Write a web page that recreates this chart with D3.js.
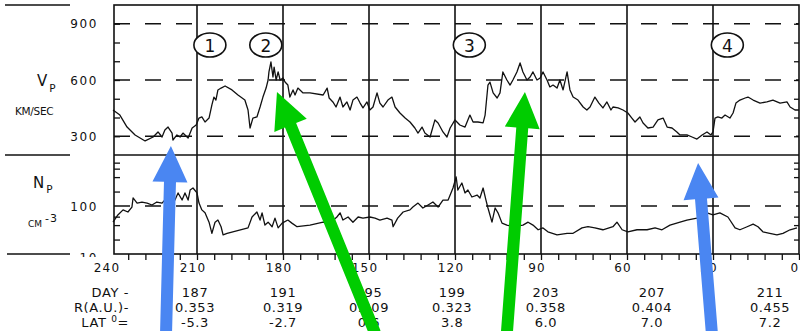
<!DOCTYPE html>
<html><head><meta charset="utf-8">
<script src="https://cdn.jsdelivr.net/npm/d3@7/dist/d3.min.js"></script>
<style>body{margin:0;background:#fff}svg{display:block}</style>
</head><body>
<svg id="c" width="800" height="331"></svg>
<script>
// ---------- data (longitude in degrees) ----------
const vpSeries = [[239.3,440],[236.9,413],[234.4,349],[231.6,307],[228.1,275],[225.3,296],[223.6,323],[222.2,296],[221.2,333],[220.1,349],[218.7,317],[218.4,280],[217.0,307],[215.9,296],[214.9,317],[213.1,291],[211.7,344],[210.3,360],[209.3,397],[208.3,403],[207.2,376],[205.8,397],[204.8,467],[204.1,509],[203.4,493],[202.7,547],[201.6,557],[200.2,568],[197.8,547],[195.7,520],[193.3,493],[192.2,440],[191.5,344],[190.5,397],[189.1,403],[188.0,456],[187.0,509],[185.9,557],[185.2,600],[184.9,643],[184.2,696],[183.5,616],[183.1,669],[182.4,600],[181.7,643],[181.0,600],[180.0,611],[179.3,589],[178.3,573],[177.6,509],[176.5,547],[175.8,520],[174.8,557],[173.0,531],[170.6,531],[166.0,520],[164.6,557],[163.9,504],[162.6,483],[161.5,456],[160.1,509],[159.1,456],[157.7,483],[156.6,440],[155.6,493],[154.2,509],[153.1,477],[152.1,451],[150.7,483],[149.7,440],[148.6,456],[147.2,531],[146.2,477],[145.1,456],[143.4,493],[142.0,509],[140.9,456],[139.2,424],[137.4,397],[135.7,376],[134.0,344],[132.9,317],[131.5,349],[130.5,317],[128.7,296],[127.0,387],[125.9,371],[124.2,323],[122.8,296],[121.7,344],[120.0,387],[118.3,360],[116.5,349],[114.8,413],[113.7,376],[112.0,376],[110.2,371],[109.5,413],[108.5,573],[107.8,589],[106.7,531],[105.3,504],[104.3,531],[103.3,643],[101.9,600],[100.8,573],[99.8,600],[98.4,643],[97.3,691],[96.3,643],[94.9,600],[93.8,616],[92.8,643],[91.4,600],[90.3,611],[89.3,643],[87.9,600],[86.9,563],[85.8,573],[84.4,557],[83.4,600],[82.3,547],[80.9,643],[79.9,547],[78.8,509],[77.1,493],[75.3,456],[74.0,440],[72.9,456],[71.2,509],[69.8,477],[68.4,451],[67.0,483],[65.6,440],[64.9,456],[63.1,451],[61.4,440],[59.7,424],[58.3,397],[57.2,376],[55.5,403],[54.4,371],[52.7,344],[50.9,349],[49.2,387],[47.4,397],[46.0,349],[44.3,344],[42.6,323],[41.5,307],[39.1,307],[37.3,296],[35.6,285],[33.8,307],[32.1,323],[30.7,307],[30.0,323],[29.3,397],[28.3,403],[26.9,397],[25.8,413],[24.1,397],[23.0,424],[22.0,477],[20.6,493],[18.8,504],[17.8,509],[16.0,493],[13.6,477],[11.2,483],[9.1,493],[6.6,477],[4.2,483],[3.1,456],[1.4,440],[0.0,440]];

const npSeries = [[239.3,46],[237.6,65],[235.8,83],[234.1,75],[232.7,95],[232.3,147],[230.9,115],[229.2,121],[227.4,115],[225.7,105],[224.0,121],[222.2,115],[221.2,133],[219.4,121],[217.7,133],[216.6,187],[215.2,133],[214.2,187],[213.1,133],[212.4,215],[211.4,237],[210.0,187],[209.3,115],[208.3,83],[207.2,72],[205.8,46],[204.8,27],[203.7,46],[202.7,51],[201.6,37],[200.9,25],[199.5,27],[192.2,35],[190.8,59],[189.1,75],[188.0,51],[187.3,72],[186.3,40],[185.2,46],[183.8,37],[182.8,56],[181.7,35],[180.3,44],[178.3,51],[176.9,44],[175.1,37],[170.6,40],[166.0,46],[163.6,44],[161.2,59],[160.1,72],[159.1,51],[157.3,59],[155.6,46],[153.8,59],[152.1,56],[149.7,59],[147.9,56],[146.2,51],[143.7,56],[142.0,51],[141.6,37],[140.0,56],[138.1,75],[135.7,83],[134.7,95],[132.9,115],[131.2,91],[129.4,105],[127.7,121],[125.9,95],[124.2,133],[122.4,133],[120.7,237],[119.6,402],[119.0,215],[117.6,301],[116.5,187],[115.5,215],[114.1,154],[112.3,169],[111.3,147],[110.2,237],[109.2,133],[108.5,91],[107.1,46],[106.0,91],[105.0,72],[103.6,44],[101.9,40],[99.8,37],[96.3,40],[94.5,46],[92.8,40],[91.0,32],[89.3,35],[87.6,29],[84.4,25],[80.9,27],[78.8,27],[75.7,35],[73.6,37],[71.2,35],[68.4,32],[64.9,37],[63.5,46],[61.7,32],[59.7,29],[56.5,32],[53.0,32],[50.2,35],[47.8,32],[45.0,40],[41.5,46],[39.1,51],[35.6,56],[32.1,72],[30.0,65],[27.6,72],[24.8,59],[22.3,35],[20.6,32],[18.1,37],[16.0,42],[14.3,37],[12.6,29],[10.2,27],[7.7,25],[5.6,27],[3.1,32],[0.7,35]];

const xTickLabels = [240,210,180,150,120,90,60,30,0];
const xGridLines = [210,180,150,120,90,60,30];
const xMinorTicks = d3.range(0,235,6);
const vpLabelTicks = [300,600,900];
const vpMinorTicks = [300,400,500,600,700,800,900];
const npLabelTicks = [10,100];
const npDashed = [100];
const npMinorTicks = [20,40,60,200,400,600,800];

const dayColumnLon = [210.7,180,150,121,88.3,51.3,10.1];
const dayValues = ["187","191","195","199","203","207","211"];
const radiusValues = ["0.353","0.319","0.309","0.323","0.358","0.404","0.455"];
const latValues = ["-5.3","-2.7","0.6","3.8","6.0","7.0","7.2"];

const eventLon = [205.5,186,115,25];
const eventLabels = ["1","2","3","4"];

// annotation arrows: tip in data units (panel, lon, value), tail longitude at the bottom edge
const arrows = [
  {color:"#4a86f2", panel:"vp", tipLon:219.1, tipVal:248, tailLon:220.8},
  {color:"#00cc00", panel:"vp", tipLon:182.1, tipVal:536, tailLon:147.9},
  {color:"#00cc00", panel:"vp", tipLon:95.6,  tipVal:536, tailLon:101.9},
  {color:"#4a86f2", panel:"np", tipLon:35.2,  tipVal:787, tailLon:30.4}
];

// ---------- layout ----------
const W=800,H=331;
const L=114,R=799,T=5,MID=155,B=254;
const FONT="DejaVu Sans, sans-serif";
const INK="#111";
const svg=d3.select("#c");
svg.append("rect").attr("width",W).attr("height",H).attr("fill","#fff");

const x=d3.scaleLinear().domain([240,0]).range([111,799]);
const yV=d3.scaleLinear().domain([200,1000]).range([MID,T]);
const yN=d3.scaleLog().domain([10,1000]).range([B,158]);

// left-side separators
[[5,T],[5,MID],[7,B]].forEach(([x0,y])=>svg.append("line").attr("x1",x0).attr("x2",70).attr("y1",y).attr("y2",y)
  .attr("stroke",INK).attr("stroke-width",1.5));

// dashed grid
const dash="16,15";
vpLabelTicks.forEach(v=>svg.append("line").attr("x1",L).attr("x2",R).attr("y1",yV(v)).attr("y2",yV(v))
  .attr("stroke",INK).attr("stroke-width",1.4).attr("stroke-dasharray",dash));
npDashed.forEach(v=>svg.append("line").attr("x1",L).attr("x2",R).attr("y1",yN(v)).attr("y2",yN(v))
  .attr("stroke",INK).attr("stroke-width",1.4).attr("stroke-dasharray",dash));

// vertical grid lines
xGridLines.forEach(v=>svg.append("line").attr("x1",x(v)).attr("x2",x(v)).attr("y1",T).attr("y2",B)
  .attr("stroke",INK).attr("stroke-width",1.6));

// frame
svg.append("rect").attr("x",L).attr("y",T).attr("width",R-L).attr("height",B-T)
  .attr("fill","none").attr("stroke",INK).attr("stroke-width",1.6);
svg.append("line").attr("x1",L).attr("x2",R).attr("y1",MID).attr("y2",MID).attr("stroke",INK).attr("stroke-width",1.6);

// inner ticks
function ticks(axis, tx, ty){
  const g=svg.append("g").attr("transform",`translate(${tx},${ty})`).call(axis);
  g.select(".domain").remove();
  g.selectAll("line").attr("stroke",INK).attr("stroke-width",1.3);
  g.selectAll("text").remove();
  return g;
}
ticks(d3.axisRight(yV).tickValues(vpMinorTicks).tickSize(6),L,0);
ticks(d3.axisLeft(yV).tickValues(vpMinorTicks).tickSize(5),R,0);
ticks(d3.axisRight(yN).tickValues(npMinorTicks).tickSize(6),L,0);
ticks(d3.axisLeft(yN).tickValues(npMinorTicks).tickSize(5),R,0);
ticks(d3.axisBottom(x).tickValues(xMinorTicks).tickSize(6),0,B);

// x tick labels
svg.append("g").selectAll("text").data(xTickLabels).join("text")
  .attr("x",d=>x(d)-4).attr("y",272).attr("text-anchor","middle")
  .attr("font-family",FONT).attr("font-size",12).attr("letter-spacing",1.2).attr("fill",INK)
  .text(d=>d);

// y labels
vpLabelTicks.forEach(v=>svg.append("text").attr("x",98).attr("y",yV(v)+4.5).attr("text-anchor","end")
  .attr("font-family",FONT).attr("font-size",12).attr("letter-spacing",1.6).attr("fill",INK).text(v));
svg.append("defs").append("clipPath").attr("id","clipTen").append("rect").attr("x",0).attr("y",0).attr("width",110).attr("height",257);
npLabelTicks.forEach(v=>svg.append("text").attr("x",98).attr("y",yN(v)+(v===10?8:4.5)).attr("text-anchor","end")
  .attr("clip-path",v===10?"url(#clipTen)":null)
  .attr("font-family",FONT).attr("font-size",12).attr("letter-spacing",1.6).attr("fill",INK).text(v));

// axis titles
const vt=svg.append("text").attr("x",37).attr("y",86).attr("font-family",FONT).attr("fill",INK);
vt.append("tspan").attr("font-size",15).text("V");
vt.append("tspan").attr("font-size",10.5).attr("dx",2).attr("dy",6).text("P");
svg.append("text").attr("x",15).attr("y",115).attr("font-family",FONT).attr("font-size",10.5).attr("letter-spacing",-0.3)
  .attr("fill",INK).text("KM/SEC");
const nt=svg.append("text").attr("x",33).attr("y",188).attr("font-family",FONT).attr("fill",INK);
nt.append("tspan").attr("font-size",15).text("N");
nt.append("tspan").attr("font-size",10.5).attr("dx",2).attr("dy",5).text("P");
const ct=svg.append("text").attr("x",28).attr("y",227).attr("font-family",FONT).attr("fill",INK);
ct.append("tspan").attr("font-size",9).text("CM");
ct.append("tspan").attr("font-size",11).attr("dx",3).attr("dy",-5).attr("letter-spacing",1).text("-3");

// data lines
const lineV=d3.line().x(d=>x(d[0])).y(d=>yV(d[1]));
const lineN=d3.line().x(d=>x(d[0])).y(d=>yN(d[1]));
svg.append("path").datum(vpSeries).attr("d",lineV).attr("fill","none").attr("stroke",INK)
  .attr("stroke-width",1.3).attr("stroke-linejoin","round");
svg.append("path").datum(npSeries).attr("d",lineN).attr("fill","none").attr("stroke",INK)
  .attr("stroke-width",1.3).attr("stroke-linejoin","round");

// event markers
const ev=svg.append("g").selectAll("g").data(eventLon).join("g")
  .attr("transform",d=>`translate(${x(d)},45)`);
ev.append("ellipse").attr("rx",16).attr("ry",12).attr("fill","#fff").attr("stroke",INK).attr("stroke-width",1.6);
ev.append("text").attr("y",6.5).attr("text-anchor","middle").attr("font-family",FONT).attr("font-size",17)
  .attr("fill",INK).text((d,i)=>eventLabels[i]);

// bottom table
const rowFont={"font-family":FONT,"font-size":13,"letter-spacing":0.6,"fill":INK};
function styled(sel){Object.entries(rowFont).forEach(([k,v])=>sel.attr(k,v));return sel;}
styled(svg.append("text").attr("x",129).attr("y",297).attr("text-anchor","end")).text("DAY -");
styled(svg.append("text").attr("x",129).attr("y",312).attr("text-anchor","end")).text("R(A.U.)-");
const lat=styled(svg.append("text").attr("x",129).attr("y",327).attr("text-anchor","end"));
lat.append("tspan").text("LAT ");
lat.append("tspan").attr("font-size",9).attr("dy",-5).text("0");
lat.append("tspan").attr("dy",5).text("=");
[[dayValues,297],[radiusValues,312],[latValues,327]].forEach(([vals,yy])=>{
  styled(svg.append("g").selectAll("text").data(vals).join("text")
    .attr("x",(d,i)=>x(dayColumnLon[i])).attr("y",yy).attr("text-anchor","middle")).text(d=>d);
});

// arrows
function arrowPoly(tx,ty,sx,sy,headLen,headW,shaftW){
  const dx=tx-sx, dy=ty-sy, len=Math.hypot(dx,dy);
  const ux=dx/len, uy=dy/len, nx=-uy, ny=ux;
  const bx=tx-ux*headLen, by=ty-uy*headLen;
  const p=(a,b)=>[a,b];
  return [p(sx+nx*shaftW/2,sy+ny*shaftW/2),p(bx+nx*shaftW/2,by+ny*shaftW/2),p(bx+nx*headW/2,by+ny*headW/2),
          p(tx,ty),p(bx-nx*headW/2,by-ny*headW/2),p(bx-nx*shaftW/2,by-ny*shaftW/2),p(sx-nx*shaftW/2,sy-ny*shaftW/2)];
}
arrows.forEach(a=>{
  const tx=x(a.tipLon), ty=(a.panel==="vp"?yV:yN)(a.tipVal);
  const pts=arrowPoly(tx,ty,x(a.tailLon),H+2,36,35,12);
  svg.append("polygon").attr("points",pts.map(p=>p.join(",")).join(" ")).attr("fill",a.color);
});
</script>
</body></html>
